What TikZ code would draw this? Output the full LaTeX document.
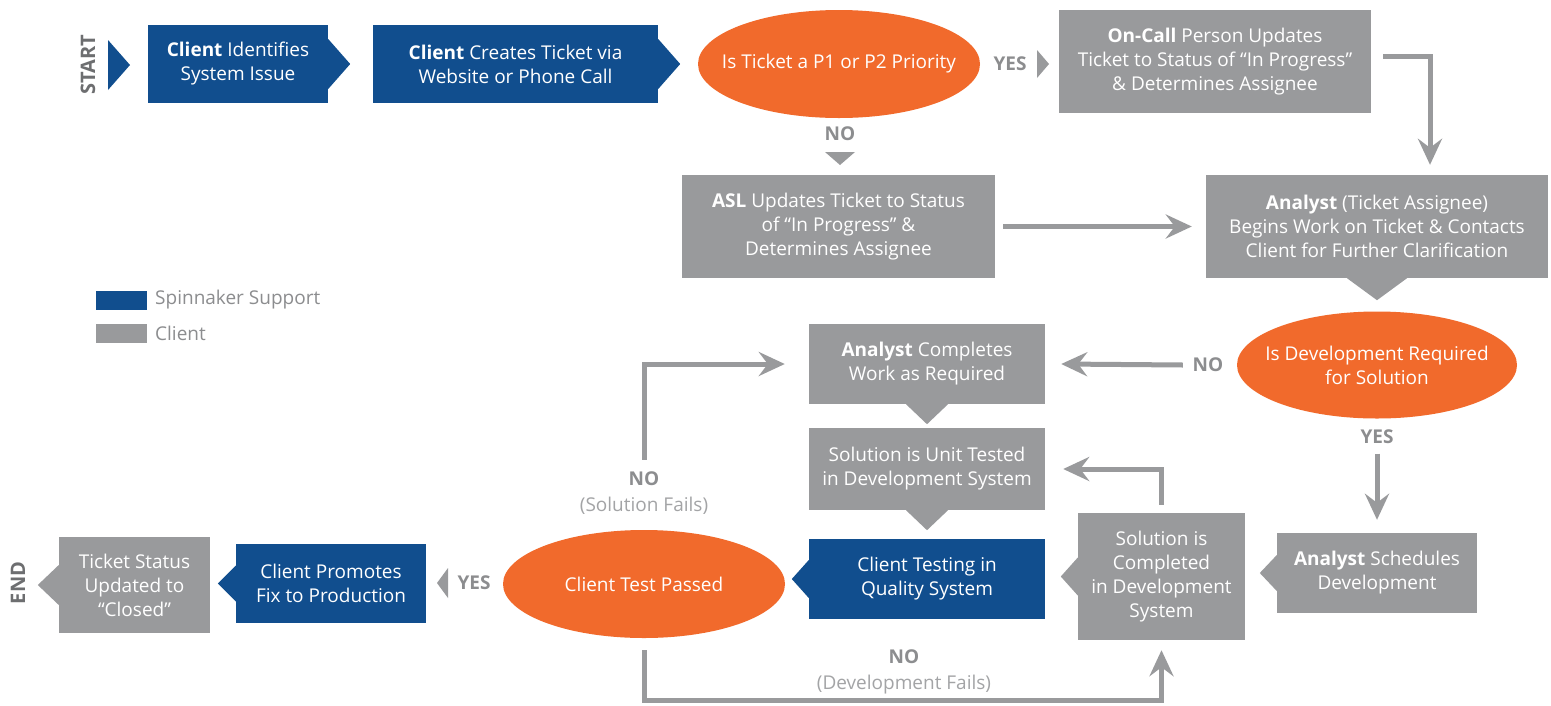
\documentclass[tikz,border=0pt]{standalone}
\usepackage{fontspec}
\setmainfont{Open Sans}
\usetikzlibrary{shapes.geometric,arrows.meta}
\definecolor{spblue}{RGB}{17,78,142}
\definecolor{clgray}{RGB}{153,154,156}
\definecolor{dorange}{RGB}{241,106,44}
\definecolor{lblgray}{RGB}{140,141,143}
\definecolor{subgray}{RGB}{163,164,166}
\definecolor{sgray}{RGB}{109,110,112}
\newcommand\nodefnt{\fontsize{19}{24}\selectfont}
\newcommand\lblfnt{\fontsize{19}{26}\selectfont}
\tikzset{
  bx/.style={rectangle, inner sep=0pt, text=white, align=center, font=\nodefnt},
  bbox/.style={bx, fill=spblue},
  gbox/.style={bx, fill=clgray},
  dec/.style={ellipse, inner sep=0pt, fill=dorange},
  dectext/.style={text=white, align=center, font=\nodefnt, inner sep=0pt},
  lbl/.style={text=lblgray, font=\lblfnt\bfseries, align=center},
  conn/.style={draw=clgray, line width=5pt, -{Stealth[length=26pt,width=24pt,inset=9pt]}},
  notchb/.style={fill=spblue},
  notchg/.style={fill=clgray},
  endlbl/.style={text=sgray, font=\fontsize{20}{24}\selectfont\bfseries, rotate=90},
}
\begin{document}
\begin{tikzpicture}[x=1pt,y=-1pt]
\fill[white] (0,0) rectangle (1551,705);
\useasboundingbox (0,0) rectangle (1551,705);

% start / end
\node[endlbl] (start) at (88,65) {START};
\node[endlbl] (end) at (18,583) {END};
\fill[spblue] (108,40) -- (130,65) -- (108,90) -- cycle;

% top row
\node[bbox, minimum width=180pt, minimum height=78pt] (b1) at (238,64) {\textbf{Client} Identifies\\System Issue};
\fill[notchb] ([yshift=25pt]b1.east) -- ++(22,25) -- ++(-22,25) -- cycle;
\node[bbox, minimum width=285pt, minimum height=78pt] (b2) at (515.5,64) {\textbf{Client} Creates Ticket via\\Website or Phone Call};
\fill[notchb] ([yshift=25pt]b2.east) -- ++(22,25) -- ++(-22,25) -- cycle;
\node[dec, minimum width=282pt, minimum height=108pt,
  label={[dectext]center:Is Ticket a P1 or P2 Priority}] (e1) at (839,64) {};
\node[lbl] (yes1) at (1010,64) {YES};
\fill[notchg] (1037,50) -- (1049,64) -- (1037,78) -- cycle;
\node[gbox, minimum width=312pt, minimum height=103pt] (b3) at (1215,61.5) {\textbf{On-Call} Person Updates\\Ticket to Status of “In Progress”\\\& Determines Assignee};
\node[lbl] (no1) at (840,134) {NO};
\fill[notchg] (825,152) -- (855,152) -- (840,165) -- cycle;

% second row
\node[gbox, minimum width=313pt, minimum height=103pt] (b4) at (838.5,226.5) {\textbf{ASL} Updates Ticket to Status\\of “In Progress” \&\\Determines Assignee};
\node[gbox, minimum width=342pt, minimum height=103pt] (b5) at (1377,226.5) {\textbf{Analyst} (Ticket Assignee)\\Begins Work on Ticket \& Contacts\\Client for Further Clarification};
\fill[notchg] ([xshift=-30pt]b5.south) -- ++(30,22) -- ++(30,-22) -- cycle;

% legend
\fill[spblue] (96,291) rectangle (147,310);
\fill[clgray] (96,324) rectangle (147,343);
\node[text=lblgray, font=\nodefnt, anchor=west, inner sep=0pt] (leg1) at (155,300) {Spinnaker Support};
\node[text=lblgray, font=\nodefnt, anchor=west, inner sep=0pt] (leg2) at (155,333) {Client};

% decision 2
\node[dec, minimum width=280pt, minimum height=107pt,
  label={[dectext]center:Is Development Required\\for Solution}] (e2) at (1377,365) {};
\node[lbl] (no2) at (1208,365) {NO};
\node[lbl] (yes2) at (1377,437) {YES};
\node[gbox, minimum width=200pt, minimum height=80pt] (b6) at (1377,573) {\textbf{Analyst} Schedules\\Development};
\fill[notchg] ([yshift=18pt]b6.west) -- ++(-17,18) -- ++(17,18) -- cycle;
\node[gbox, minimum width=167pt, minimum height=127pt] (b7) at (1161.5,576.5) {Solution is\\Completed\\in Development\\System};
\fill[notchg] ([yshift=19pt]b7.west) -- ++(-17,19) -- ++(17,19) -- cycle;

% middle column
\node[gbox, minimum width=236pt, minimum height=80pt] (b8) at (927,364) {\textbf{Analyst} Completes\\Work as Required};
\fill[notchg] ([xshift=-21pt]b8.south) -- ++(21,20) -- ++(21,-20) -- cycle;
\node[gbox, minimum width=236pt, minimum height=82pt] (b9) at (927,469) {Solution is Unit Tested\\in Development System};
\fill[notchg] ([xshift=-21pt]b9.south) -- ++(21,20) -- ++(21,-20) -- cycle;
\node[bbox, minimum width=236pt, minimum height=80pt] (b10) at (927,579) {Client Testing in\\Quality System};
\fill[notchb] ([yshift=19pt]b10.west) -- ++(-17,19) -- ++(17,19) -- cycle;

% bottom row
\node[dec, minimum width=282pt, minimum height=108pt,
  label={[dectext]center:Client Test Passed}] (e3) at (644,584) {};
\node[lbl] (yes3) at (474,583) {YES};
\fill[notchg] (448,568) -- (437,583) -- (448,598) -- cycle;
\node[bbox, minimum width=190pt, minimum height=79pt] (b11) at (331,583.5) {Client Promotes\\Fix to Production};
\fill[notchb] ([yshift=18pt]b11.west) -- ++(-18,18) -- ++(18,18) -- cycle;
\node[gbox, minimum width=151pt, minimum height=96pt] (b12) at (134.5,585) {Ticket Status\\Updated to\\“Closed”};
\fill[notchg] ([yshift=20pt]b12.west) -- ++(-21,20) -- ++(21,20) -- cycle;

\node[align=center, font=\lblfnt] (sf) at (644,493) {\textcolor{lblgray}{\bfseries NO}\\\textcolor{subgray}{(Solution Fails)}};
\node[align=center, font=\lblfnt] (df) at (904,672) {\textcolor{lblgray}{\bfseries NO}\\\textcolor{subgray}{(Development Fails)}};

% connectors
\draw[conn] ([xshift=12pt,yshift=5pt]b3.east) -| ([xshift=53pt,yshift=10pt]b5.north);
\draw[conn] ([xshift=8pt]b4.east) -- ([xshift=-14pt]b5.west);
\draw[conn] ([xshift=-54pt]e2.west) -- ([xshift=16pt]b8.east);
\draw[conn] ([yshift=-35pt]e2.south) -- ([yshift=13pt]b6.north);
\draw[conn] ([yshift=8pt]b7.north) |- ([xshift=18pt]b9.east);
\draw[conn] ([yshift=70pt]e3.north) |- ([xshift=-24pt]b8.west);
\draw[conn] ([yshift=-12pt]e3.south) -- ++(0,50) -| ([yshift=-10pt]b7.south);
\end{tikzpicture}
\end{document}
